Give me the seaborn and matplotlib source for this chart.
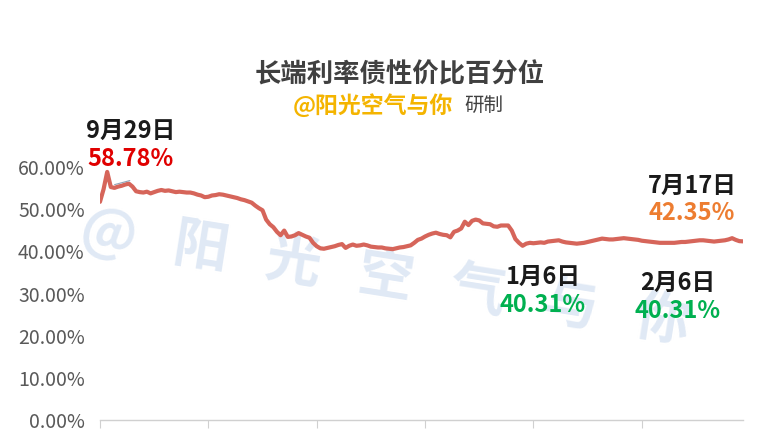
import numpy as np
import pandas as pd
import matplotlib
matplotlib.use("Agg")
import matplotlib.pyplot as plt
import seaborn as sns
from matplotlib.ticker import FuncFormatter

# percentile values (%), one per trading day from 9/29 to 7/17
values = [
    51.7, 54.7, 58.78, 55.2, 55.0, 55.3, 55.5, 55.8, 56.0, 55.3,
    54.2, 54.0, 53.9, 54.1, 53.7, 54.0, 54.3, 54.5, 54.3, 54.4,
    54.2, 54.0, 54.1, 54.0, 53.9, 53.9, 53.7, 53.4, 53.2, 52.8,
    52.9, 53.2, 53.3, 53.5, 53.4, 53.2, 53.0, 52.8, 52.6, 52.3,
    52.1, 51.8, 51.5, 50.8, 50.2, 49.7, 47.5, 46.4, 45.7, 44.6,
    43.8, 44.9, 43.4, 43.5, 43.8, 44.3, 43.9, 43.5, 43.2, 42.0,
    41.2, 40.7, 40.6, 40.8, 41.0, 41.2, 41.5, 41.7, 40.8, 41.3,
    41.6, 41.3, 41.4, 41.6, 41.4, 41.1, 41.0, 40.9, 40.9, 40.7,
    40.6, 40.5, 40.7, 40.9, 41.0, 41.2, 41.4, 42.0, 42.7, 43.0,
    43.5, 43.9, 44.2, 44.4, 44.1, 43.9, 43.8, 43.3, 44.6, 44.9,
    45.4, 47.0, 46.2, 47.2, 47.5, 47.3, 46.6, 46.5, 46.4, 45.9,
    45.8, 46.1, 46.1, 46.1, 44.9, 42.9, 42.0, 41.3, 41.8, 42.0,
    41.9, 42.0, 42.1, 42.0, 42.3, 42.4, 42.5, 42.6, 42.3, 42.1,
    42.0, 41.9, 41.8, 41.9, 42.0, 42.2, 42.4, 42.6, 42.8, 43.0,
    42.9, 42.8, 42.8, 42.9, 43.0, 43.1, 43.0, 42.9, 42.8, 42.7,
    42.5, 42.4, 42.3, 42.2, 42.1, 42.0, 42.0, 42.0, 42.0, 42.0,
    42.1, 42.2, 42.2, 42.3, 42.4, 42.5, 42.6, 42.6, 42.5, 42.4,
    42.3, 42.4, 42.5, 42.6, 42.8, 43.1, 42.7, 42.4, 42.35,
]
day = np.arange(len(values))
yticks = [0, 10, 20, 30, 40, 50, 60]
xticks = [0, 30, 60, 90, 120, 150]

title = "长端利率债性价比百分位"
author = "@阳光空气与你"
notes = [
    ("9月29日", "58.78%", "#e00000", 0.171, 0.697),
    ("7月17日", "42.35%", "#ed7d31", 0.908, 0.570),
    ("1月6日", "40.31%", "#00b050", 0.712, 0.359),
    ("2月6日", "40.31%", "#00b050", 0.889, 0.345),
]

sns.set_style("white")
plt.rcParams["font.family"] = ["Noto Sans CJK SC", "DejaVu Sans"]

df = pd.DataFrame({"day": day, "pct": values})

fig = plt.figure(figsize=(7.62, 4.32), dpi=100)
ax = fig.add_axes([0.1312, 0.027, 0.8438, 0.587])

# watermark behind the line
ax.text(0.506, 0.36, "@   阳   光   空   气   与   你", transform=fig.transFigure,
        ha="center", va="center", rotation=-9, fontsize=40, fontweight="bold",
        color="#e0e9f5", zorder=0, clip_on=False)

sns.lineplot(data=df, x="day", y="pct", ax=ax, color="#d6655a", linewidth=3, zorder=3)
ax.annotate("", xy=(9, 56.9), xytext=(3.3, 55.6),
            arrowprops=dict(arrowstyle="-", color="#8fa3b8", lw=0.8))

ax.set_xlim(0, len(values) - 1)
ax.set_ylim(0, 60)
ax.set_yticks(yticks)
ax.yaxis.set_major_formatter(FuncFormatter(lambda v, p: f"{v:.2f}%"))
ax.set_xticks(xticks)
ax.set_xticklabels([])
ax.set_xlabel("")
ax.set_ylabel("")
ax.tick_params(axis="y", length=0, pad=11, labelsize=14, labelcolor="#595959")
ax.tick_params(axis="x", bottom=True, length=6, width=0.8, color="#d0d0d0")
for lbl in ax.get_yticklabels():
    lbl.set_fontweight("medium")
for s in ["left", "right", "top"]:
    ax.spines[s].set_visible(False)
ax.spines["bottom"].set_color("#d0d0d0")
ax.spines["bottom"].set_linewidth(1)
ax.patch.set_alpha(0)

fig.text(0.525, 0.827, title, ha="center", va="center", fontsize=19,
         fontweight="bold", color="#404040")
fig.text(0.384, 0.755, author, ha="left", va="center", fontsize=16.5,
         fontweight="bold", color="#f4b400")
fig.text(0.610, 0.755, "研制", ha="left", va="center", fontsize=14, color="#404040")

for date, pct, col, x, y in notes:
    fig.text(x, y, date, ha="center", va="center", fontsize=17,
             fontweight="bold", color="#1a1a1a")
    fig.text(x, y - 0.064, pct, ha="center", va="center", fontsize=17,
             fontweight="bold", color=col)

fig.savefig("out.png", dpi=100)
